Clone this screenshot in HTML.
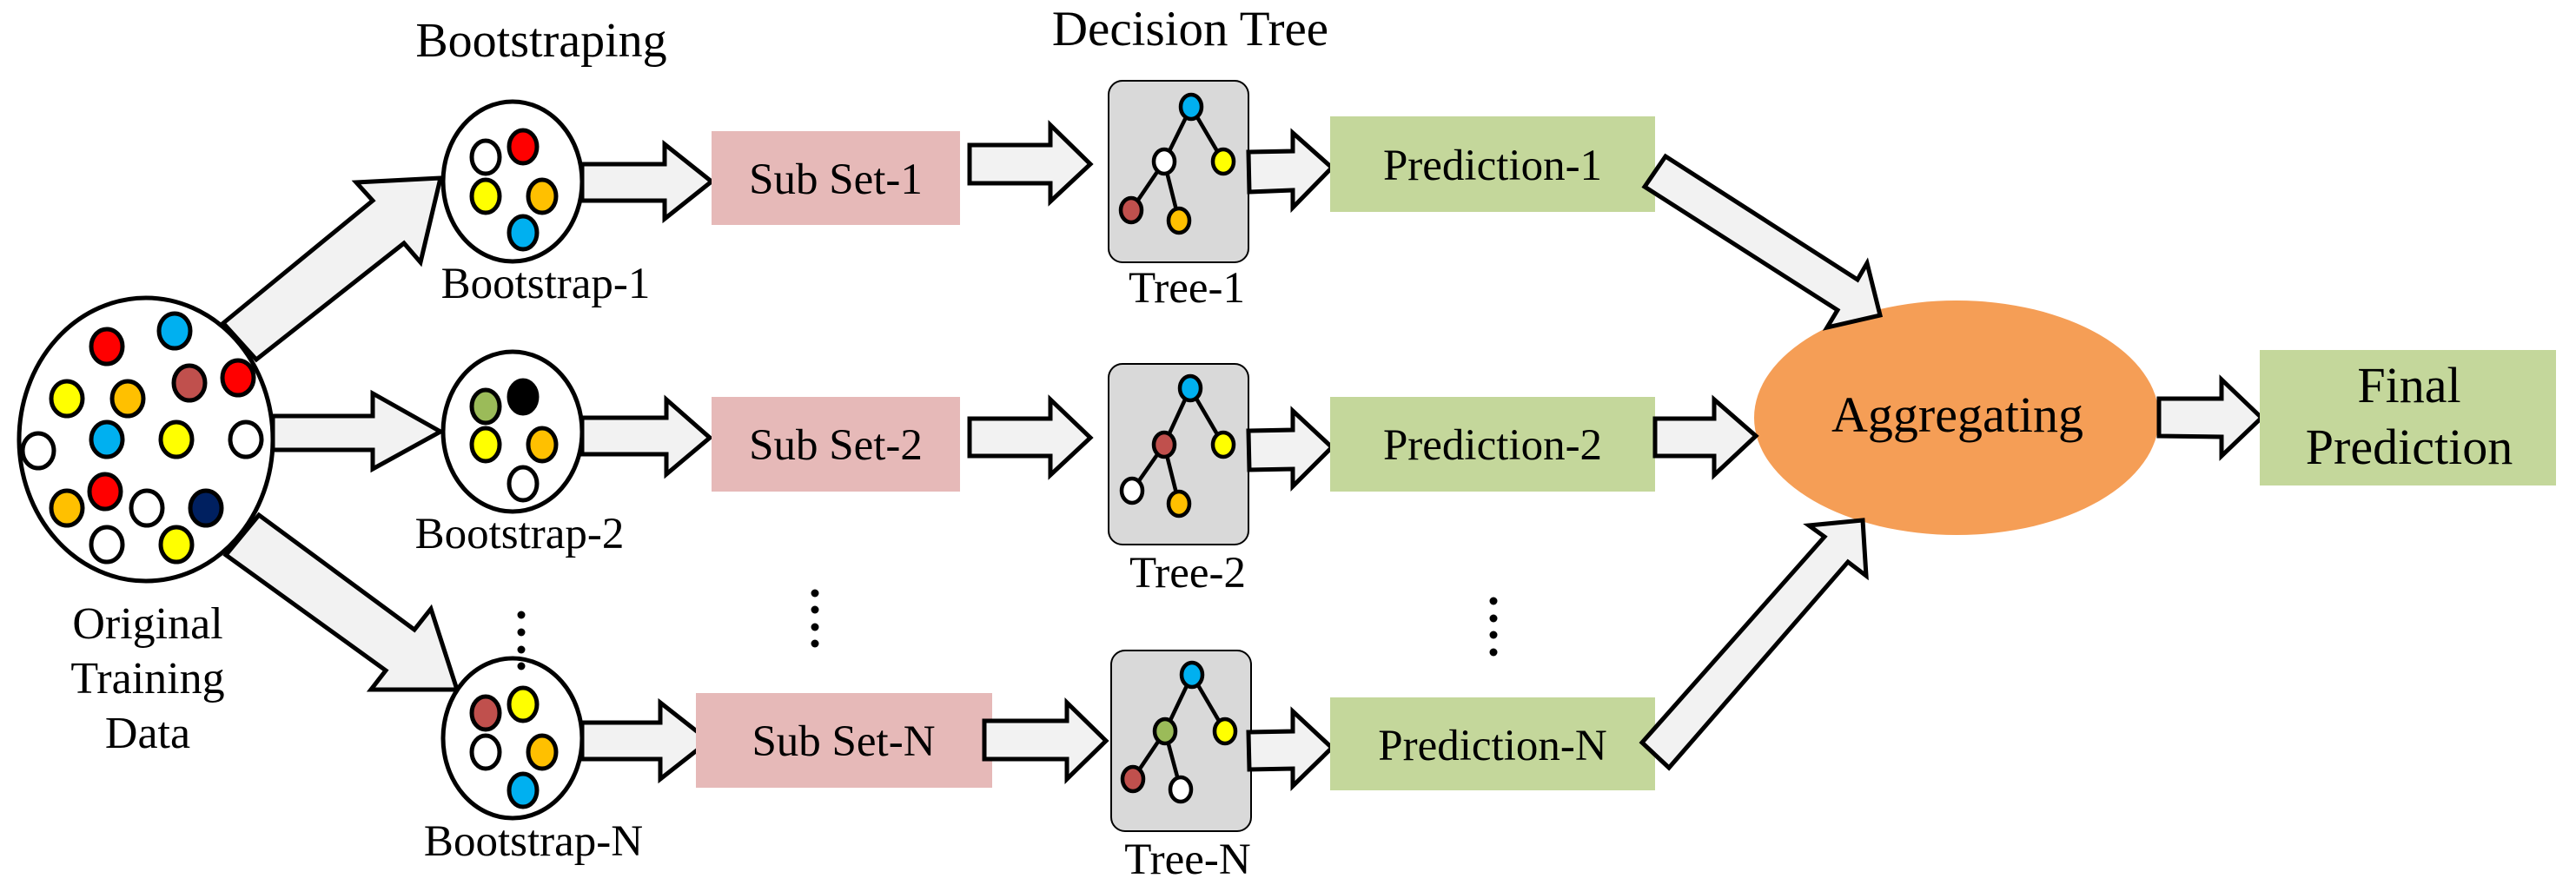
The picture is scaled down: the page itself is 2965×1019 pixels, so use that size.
<!DOCTYPE html>
<html><head><meta charset="utf-8"><style>
html,body{margin:0;padding:0;background:#fff;}
svg{display:block;}
text{font-family:"Liberation Serif",serif;fill:#000;}
</style></head><body>
<svg width="2965" height="1019" viewBox="0 0 2965 1019" xmlns="http://www.w3.org/2000/svg">
<defs>
<style>
.ar{fill:#f2f2f2;stroke:#000;stroke-width:5;stroke-linejoin:miter;}
.dt{stroke:#000;stroke-width:5;}
.tn{stroke:#000;stroke-width:4.5;}
.ed{stroke:#000;stroke-width:4.5;}
</style>
</defs>

<!-- Titles -->
<text x="623" y="65" font-size="56" text-anchor="middle">Bootstraping</text>
<text x="1370" y="52" font-size="57" text-anchor="middle">Decision Tree</text>

<!-- Arrows from original data -->
<polygon class="ar" points="257,372 429,231 410,210 507,205 484,302 465,280 295,414"/>
<polygon class="ar" points="314,479 429,479 429,453 507,497 429,540 429,518 314,518"/>
<polygon class="ar" points="298,593 477,725 496,701 526,794 427,794 444,772 260,639"/>

<!-- Original data circle -->
<ellipse cx="168" cy="506" rx="146" ry="163" fill="#fff" stroke="#000" stroke-width="5"/>
<g class="dt">
<ellipse cx="123" cy="399" rx="18" ry="20" fill="#ff0000"/>
<ellipse cx="201" cy="381" rx="18" ry="20" fill="#00b0f0"/>
<ellipse cx="218" cy="441" rx="18" ry="20" fill="#c0504d"/>
<ellipse cx="274" cy="435" rx="18" ry="20" fill="#ff0000"/>
<ellipse cx="77" cy="459" rx="18" ry="20" fill="#ffff00"/>
<ellipse cx="147" cy="459" rx="18" ry="20" fill="#ffc000"/>
<ellipse cx="123" cy="506" rx="18" ry="20" fill="#00b0f0"/>
<ellipse cx="203" cy="506" rx="18" ry="20" fill="#ffff00"/>
<ellipse cx="283" cy="506" rx="18" ry="20" fill="#fff"/>
<ellipse cx="44" cy="519" rx="18" ry="20" fill="#fff"/>
<ellipse cx="77" cy="585" rx="18" ry="20" fill="#ffc000"/>
<ellipse cx="121" cy="566" rx="18" ry="20" fill="#ff0000"/>
<ellipse cx="169" cy="585" rx="18" ry="20" fill="#fff"/>
<ellipse cx="237" cy="585" rx="18" ry="20" fill="#002060"/>
<ellipse cx="123" cy="627" rx="18" ry="20" fill="#fff"/>
<ellipse cx="203" cy="627" rx="18" ry="20" fill="#ffff00"/>
</g>
<text x="170" y="735" font-size="52" text-anchor="middle">Original</text>
<text x="170" y="798" font-size="52" text-anchor="middle">Training</text>
<text x="170" y="861" font-size="52" text-anchor="middle">Data</text>

<!-- Bootstrap circles -->
<ellipse cx="590" cy="209" rx="80" ry="92" fill="#fff" stroke="#000" stroke-width="5"/>
<g class="dt">
<ellipse cx="559" cy="181" rx="16" ry="19" fill="#fff"/>
<ellipse cx="602" cy="169" rx="16" ry="19" fill="#ff0000"/>
<ellipse cx="559" cy="226" rx="16" ry="19" fill="#ffff00"/>
<ellipse cx="624" cy="226" rx="16" ry="19" fill="#ffc000"/>
<ellipse cx="602" cy="268" rx="16" ry="19" fill="#00b0f0"/>
</g>
<text x="628" y="343" font-size="51" text-anchor="middle">Bootstrap-1</text>

<ellipse cx="590" cy="497" rx="80" ry="92" fill="#fff" stroke="#000" stroke-width="5"/>
<g class="dt">
<ellipse cx="559" cy="468" rx="16" ry="19" fill="#9bbb59"/>
<ellipse cx="602" cy="457" rx="16" ry="19" fill="#000"/>
<ellipse cx="559" cy="512" rx="16" ry="19" fill="#ffff00"/>
<ellipse cx="624" cy="512" rx="16" ry="19" fill="#ffc000"/>
<ellipse cx="602" cy="557" rx="16" ry="19" fill="#fff"/>
</g>
<text x="598" y="631" font-size="51" text-anchor="middle">Bootstrap-2</text>

<ellipse cx="590" cy="850" rx="80" ry="92" fill="#fff" stroke="#000" stroke-width="5"/>
<g class="dt">
<ellipse cx="559" cy="821" rx="16" ry="19" fill="#c0504d"/>
<ellipse cx="602" cy="811" rx="16" ry="19" fill="#ffff00"/>
<ellipse cx="559" cy="866" rx="16" ry="19" fill="#fff"/>
<ellipse cx="624" cy="866" rx="16" ry="19" fill="#ffc000"/>
<ellipse cx="602" cy="910" rx="16" ry="19" fill="#00b0f0"/>
</g>
<text x="614" y="985" font-size="51" text-anchor="middle">Bootstrap-N</text>

<!-- vertical ellipsis dots -->
<g fill="#000">
<circle cx="600" cy="708" r="4.5"/><circle cx="600" cy="728" r="4.5"/><circle cx="600" cy="748" r="4.5"/><circle cx="600" cy="767" r="4.5"/>
<circle cx="938" cy="683" r="4.5"/><circle cx="938" cy="702" r="4.5"/><circle cx="938" cy="722" r="4.5"/><circle cx="938" cy="741" r="4.5"/>
<circle cx="1719" cy="692" r="4.5"/><circle cx="1719" cy="712" r="4.5"/><circle cx="1719" cy="731" r="4.5"/><circle cx="1719" cy="751" r="4.5"/>
</g>

<!-- Bootstrap -> SubSet arrows -->
<polygon class="ar" points="670,189 765,189 765,166 819,209 765,252 765,231 670,231"/>
<polygon class="ar" points="670,481 767,481 767,460 817,504 767,546 767,523 670,523"/>
<polygon class="ar" points="670,832 760,832 760,809 816,853 760,897 760,874 670,874"/>

<!-- Sub sets -->
<rect x="819" y="151" width="286" height="108" fill="#e6b9b8"/>
<text x="962" y="223" font-size="51" text-anchor="middle">Sub Set-1</text>
<rect x="819" y="457" width="286" height="109" fill="#e6b9b8"/>
<text x="962" y="529" font-size="51" text-anchor="middle">Sub Set-2</text>
<rect x="801" y="798" width="341" height="109" fill="#e6b9b8"/>
<text x="971" y="870" font-size="51" text-anchor="middle">Sub Set-N</text>

<!-- SubSet -> Tree arrows -->
<polygon class="ar" points="1116,167 1209,167 1209,144 1255,189 1209,232 1209,211 1116,211"/>
<polygon class="ar" points="1116,482 1209,482 1209,460 1255,504 1209,547 1209,525 1116,525"/>
<polygon class="ar" points="1133,830 1228,830 1228,809 1273,853 1228,897 1228,874 1133,874"/>

<!-- Trees -->
<g>
<rect x="1276" y="93" width="161" height="209" rx="16" fill="#d9d9d9" stroke="#000" stroke-width="2"/>
<g class="ed"><line x1="1371" y1="123" x2="1340" y2="186"/><line x1="1371" y1="123" x2="1408" y2="186"/><line x1="1340" y1="186" x2="1302" y2="242"/><line x1="1340" y1="186" x2="1357" y2="254"/></g>
<g class="tn">
<ellipse cx="1371" cy="123" rx="12" ry="14" fill="#00b0f0"/>
<ellipse cx="1340" cy="186" rx="12" ry="14" fill="#fff"/>
<ellipse cx="1408" cy="186" rx="12" ry="14" fill="#ffff00"/>
<ellipse cx="1302" cy="242" rx="12" ry="14" fill="#c0504d"/>
<ellipse cx="1357" cy="254" rx="12" ry="14" fill="#ffc000"/>
</g>
</g>
<text x="1366" y="348" font-size="51" text-anchor="middle">Tree-1</text>

<g>
<rect x="1276" y="419" width="161" height="208" rx="16" fill="#d9d9d9" stroke="#000" stroke-width="2"/>
<g class="ed"><line x1="1370" y1="447" x2="1340" y2="512"/><line x1="1370" y1="447" x2="1408" y2="512"/><line x1="1340" y1="512" x2="1303" y2="565"/><line x1="1340" y1="512" x2="1357" y2="580"/></g>
<g class="tn">
<ellipse cx="1370" cy="447" rx="12" ry="14" fill="#00b0f0"/>
<ellipse cx="1340" cy="512" rx="12" ry="14" fill="#c0504d"/>
<ellipse cx="1408" cy="512" rx="12" ry="14" fill="#ffff00"/>
<ellipse cx="1303" cy="565" rx="12" ry="14" fill="#fff"/>
<ellipse cx="1357" cy="580" rx="12" ry="14" fill="#ffc000"/>
</g>
</g>
<text x="1367" y="676" font-size="51" text-anchor="middle">Tree-2</text>

<g>
<rect x="1279" y="749" width="161" height="208" rx="16" fill="#d9d9d9" stroke="#000" stroke-width="2"/>
<g class="ed"><line x1="1372" y1="777" x2="1341" y2="842"/><line x1="1372" y1="777" x2="1410" y2="842"/><line x1="1341" y1="842" x2="1304" y2="897"/><line x1="1341" y1="842" x2="1359" y2="909"/></g>
<g class="tn">
<ellipse cx="1372" cy="777" rx="12" ry="14" fill="#00b0f0"/>
<ellipse cx="1341" cy="842" rx="12" ry="14" fill="#9bbb59"/>
<ellipse cx="1410" cy="842" rx="12" ry="14" fill="#ffff00"/>
<ellipse cx="1304" cy="897" rx="12" ry="14" fill="#c0504d"/>
<ellipse cx="1359" cy="909" rx="12" ry="14" fill="#fff"/>
</g>
</g>
<text x="1367" y="1006" font-size="51" text-anchor="middle">Tree-N</text>

<!-- Tree -> Prediction arrows -->
<polygon class="ar" points="1437,175 1488,174 1488,153 1533,193 1488,239 1488,219 1438,221"/>
<polygon class="ar" points="1437,496 1488,495 1488,473 1533,515 1488,560 1488,540 1438,541"/>
<polygon class="ar" points="1437,843 1488,842 1488,819 1533,861 1488,905 1488,885 1438,886"/>

<!-- Predictions -->
<rect x="1531" y="134" width="374" height="110" fill="#c4d79b"/>
<text x="1718" y="207" font-size="51" text-anchor="middle">Prediction-1</text>
<rect x="1531" y="457" width="374" height="109" fill="#c4d79b"/>
<text x="1718" y="529" font-size="51" text-anchor="middle">Prediction-2</text>
<rect x="1531" y="803" width="374" height="107" fill="#c4d79b"/>
<text x="1718" y="875" font-size="51" text-anchor="middle">Prediction-N</text>

<!-- Aggregating -->
<ellipse cx="2252" cy="481" rx="233" ry="135" fill="#f59e56"/>
<polygon class="ar" points="1917,180 2138,322 2149,303 2164,363 2103,377 2115,357 1893,215"/>
<polygon class="ar" points="1905,482 1973,482 1973,460 2021,502 1973,547 1973,525 1905,525"/>
<polygon class="ar" points="1890,855 2100,618 2082,605 2144,599 2148,663 2127,647 1921,884"/>
<text x="2253" y="497" font-size="58" text-anchor="middle">Aggregating</text>

<polygon class="ar" points="2485,459 2557,459 2557,437 2603,481 2557,525 2557,503 2485,502"/>

<rect x="2601" y="403" width="341" height="156" fill="#c4d79b"/>
<text x="2773" y="463" font-size="58" text-anchor="middle">Final</text>
<text x="2773" y="534" font-size="58" text-anchor="middle">Prediction</text>
</svg>
</body></html>
